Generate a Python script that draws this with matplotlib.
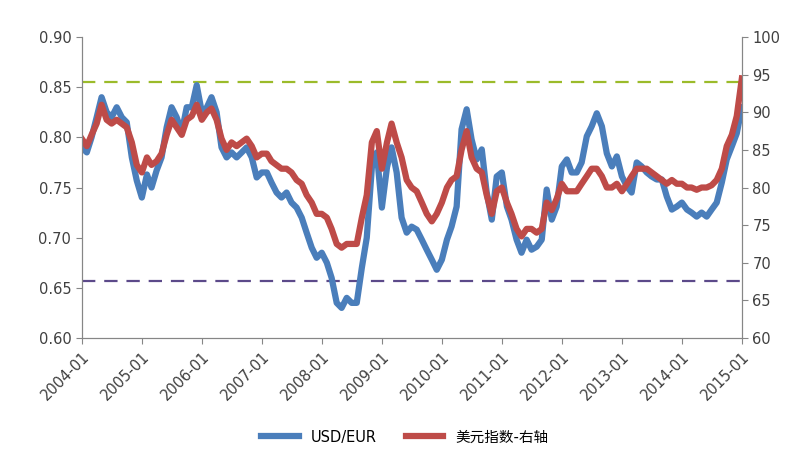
import matplotlib
matplotlib.use("Agg")
import matplotlib.pyplot as plt
import pandas as pd

plt.rcParams['font.family'] = ['DejaVu Sans', 'Noto Sans CJK SC']

# monthly readings, 2004-01 .. 2015-01
months = pd.date_range("2004-01-01", "2015-01-01", freq="MS")

usd_eur = [
    0.790, 0.785, 0.800, 0.820, 0.840, 0.825, 0.820, 0.830, 0.820, 0.815, 0.780, 0.757,
    0.740, 0.763, 0.750, 0.767, 0.780, 0.810, 0.830, 0.820, 0.805, 0.830, 0.830, 0.852,
    0.825, 0.830, 0.840, 0.825, 0.790, 0.780, 0.785, 0.780, 0.785, 0.790, 0.780, 0.760,
    0.765, 0.765, 0.755, 0.745, 0.740, 0.745, 0.735, 0.730, 0.720, 0.705, 0.690, 0.680,
    0.685, 0.675, 0.660, 0.635, 0.630, 0.640, 0.635, 0.635, 0.670, 0.700, 0.770, 0.785,
    0.730, 0.770, 0.790, 0.765, 0.720, 0.705, 0.711, 0.708, 0.698, 0.688, 0.678, 0.668,
    0.678, 0.698, 0.711, 0.731, 0.808, 0.828, 0.798, 0.778, 0.788, 0.745, 0.718, 0.761,
    0.765, 0.731, 0.718, 0.698, 0.685, 0.698, 0.688, 0.691, 0.698, 0.748, 0.718, 0.731,
    0.771, 0.778, 0.765, 0.765, 0.775, 0.801, 0.811, 0.824, 0.811, 0.784, 0.771, 0.781,
    0.761, 0.751, 0.745, 0.775, 0.771, 0.765, 0.761, 0.758, 0.758, 0.741, 0.728, 0.731,
    0.735, 0.728, 0.725, 0.721, 0.725, 0.721, 0.728, 0.735, 0.755, 0.778, 0.791, 0.804,
    0.830,
]

usd_index = [
    86.5, 85.5, 87.0, 88.5, 91.0, 89.0, 88.5, 89.0, 88.5, 88.0, 86.0, 83.0,
    82.0, 84.0, 83.0, 83.5, 84.5, 87.0, 89.0, 88.0, 87.0, 89.0, 89.5, 91.0,
    89.0, 90.0, 90.5, 89.0, 86.5, 85.0, 86.0, 85.5, 86.0, 86.5, 85.5, 84.0,
    84.5, 84.5, 83.5, 83.0, 82.5, 82.5, 82.0, 81.0, 80.5, 79.0, 78.0, 76.5,
    76.5, 76.0, 74.5, 72.5, 72.0, 72.5, 72.5, 72.5, 76.0, 79.0, 86.0, 87.5,
    82.5, 86.0, 88.5, 86.0, 84.0, 81.0, 80.0, 79.5, 78.0, 76.5, 75.5, 76.5,
    78.0, 80.0, 81.0, 81.5, 85.0, 87.5, 84.0, 82.5, 82.0, 79.0, 76.5, 79.5,
    80.0, 78.0, 76.5, 74.5, 73.5, 74.5, 74.5, 74.0, 74.5, 78.0, 77.0, 78.5,
    80.5, 79.5, 79.5, 79.5, 80.5, 81.5, 82.5, 82.5, 81.5, 80.0, 80.0, 80.5,
    79.5, 80.5, 81.5, 82.5, 82.5, 82.5, 82.0, 81.5, 81.0, 80.5, 81.0, 80.5,
    80.5, 80.0, 80.0, 79.7, 80.0, 80.0, 80.3, 81.0, 82.5, 85.5, 87.0, 89.5,
    94.5,
]

upper_ref = 0.855
lower_ref = 0.657

blue = "#4a7ebb"
red = "#be4b48"
grey = "#868686"

fig = plt.figure(figsize=(8.09, 4.63), dpi=100)
ax = fig.add_axes([0.101, 0.270, 0.816, 0.650])
ax2 = ax.twinx()

ax.axhline(upper_ref, color="#9bbb2a", lw=1.6, dashes=(6, 4), zorder=1)
ax.axhline(lower_ref, color="#5c4a8a", lw=1.6, dashes=(6, 4), zorder=1)
l1, = ax.plot(months, usd_eur, color=blue, lw=4.5, zorder=2)
l2, = ax2.plot(months, usd_index, color=red, lw=4.5, zorder=2)

ax.set_ylim(0.60, 0.90)
ax2.set_ylim(60, 100)
ax.set_yticks([0.60, 0.65, 0.70, 0.75, 0.80, 0.85, 0.90])
ax.set_yticklabels(["%.2f" % v for v in ax.get_yticks()])
ax2.set_yticks(range(60, 101, 5))
ax.set_xlim(months[0], months[-1])

ticks = pd.date_range("2004-01-01", "2015-01-01", freq="YS")
ax.set_xticks(ticks)
ax.set_xticklabels([t.strftime("%Y-%m") for t in ticks], rotation=45,
                   ha="right", rotation_mode="anchor")

for a in (ax, ax2):
    a.spines["top"].set_visible(False)
    for s in ("left", "right", "bottom"):
        a.spines[s].set_color(grey)
    a.tick_params(colors=grey, labelcolor="#404040", labelsize=10.5,
                  direction="out", length=4)
ax.tick_params(axis="x", pad=4)

fig.legend([l1, l2], ["USD/EUR", "美元指数-右轴"], loc="center",
           bbox_to_anchor=(0.5, 0.056), ncol=2, frameon=False,
           handlelength=2.6, columnspacing=2.0,
           prop={"family": ["DejaVu Sans", "Noto Sans CJK SC"], "size": 10.5})

fig.savefig("out.png", dpi=100)
